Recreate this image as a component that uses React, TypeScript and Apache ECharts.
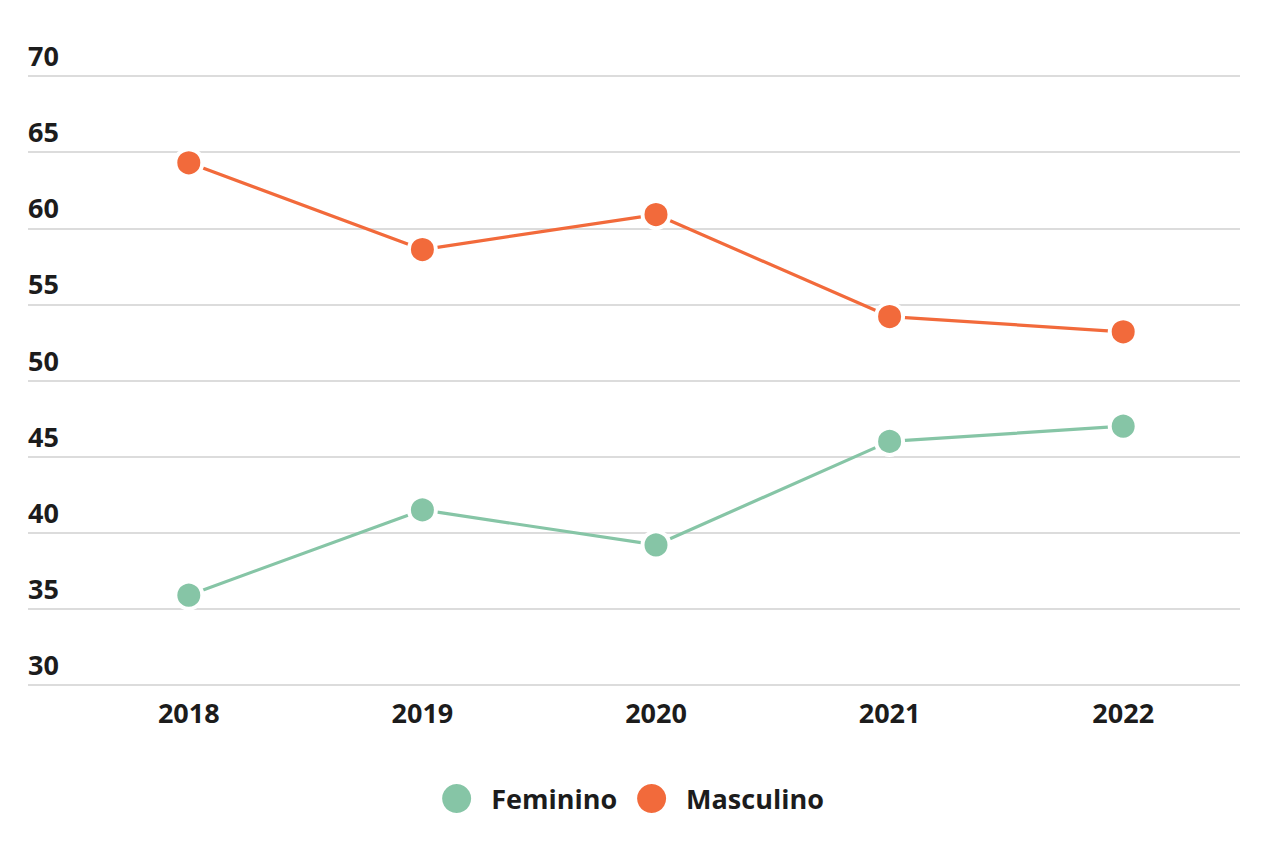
import React, { useEffect, useRef } from "react";
import * as echarts from "echarts";

const years = ["2018", "2019", "2020", "2021", "2022"];
const feminino = [35.9, 41.5, 39.2, 46.0, 47.0];
const masculino = [64.3, 58.6, 60.9, 54.2, 53.2];
const yMin = 30;
const yMax = 70;
const yStep = 5;

const GREEN = "#86C5A6";
const ORANGE = "#F26A3B";
const FONT = "'Open Sans', 'Noto Sans', sans-serif";
const TEXT = "#1c1c1c";

export default function App() {
  const ref = useRef<HTMLDivElement>(null);
  useEffect(() => {
    document.body.style.margin = "0";
    const chart = echarts.init(ref.current!, null, { renderer: "svg" });
    const lineSeries = (name: string, data: number[], color: string) => ({
      name,
      type: "line",
      xAxisIndex: 0,
      yAxisIndex: 0,
      data,
      symbol: "circle",
      symbolSize: 27,
      showSymbol: true,
      lineStyle: { color, width: 3.2 },
      itemStyle: { color, borderColor: "#ffffff", borderWidth: 4 },
      z: 5,
    });
    chart.setOption({
      animation: false,
      backgroundColor: "#ffffff",
      textStyle: { fontFamily: FONT },
      grid: [
        { left: 72, right: 26, top: 76, bottom: 156 },
        { left: 28, right: 26, top: 76, bottom: 156 },
      ],
      xAxis: [
        {
          type: "category",
          gridIndex: 0,
          data: years,
          boundaryGap: true,
          axisLine: { show: false },
          axisTick: { show: false },
          axisLabel: {
            margin: 14,
            fontSize: 27,
            lineHeight: 27,
            fontWeight: "bold",
            fontFamily: FONT,
            color: TEXT,
          },
        },
        { type: "value", gridIndex: 1, show: false, min: 0, max: 1 },
      ],
      yAxis: [
        {
          type: "value",
          gridIndex: 0,
          min: yMin,
          max: yMax,
          interval: yStep,
          show: true,
          axisLine: { show: false },
          axisTick: { show: false },
          axisLabel: { show: false },
          splitLine: { show: false },
        },
        {
          type: "value",
          gridIndex: 1,
          min: yMin,
          max: yMax,
          interval: yStep,
          axisLine: { show: false },
          axisTick: { show: false },
          splitLine: { show: true, lineStyle: { color: "#d0d0d0", width: 1.5 } },
          axisLabel: {
            inside: true,
            margin: 0,
            verticalAlign: "bottom",
            padding: [0, 0, 7, 0],
            fontSize: 27,
            lineHeight: 27,
            fontWeight: "bold",
            fontFamily: FONT,
            color: TEXT,
          },
        },
      ],
      legend: {
        left: "center",
        top: 779,
        icon: "circle",
        itemWidth: 29,
        itemHeight: 29,
        itemGap: 20,
        data: ["Feminino", "Masculino"],
        textStyle: {
          fontSize: 27,
          fontWeight: "bold",
          fontFamily: FONT,
          color: TEXT,
          padding: [0, 0, 0, 15],
        },
        itemStyle: { borderWidth: 0 },
      },
      series: [
        lineSeries("Feminino", feminino, GREEN),
        lineSeries("Masculino", masculino, ORANGE),
      ],
    });
    return () => chart.dispose();
  }, []);
  return (
    <div
      ref={ref}
      style={{ position: "fixed", left: 0, top: 0, width: 1266, height: 841 }}
    />
  );
}
